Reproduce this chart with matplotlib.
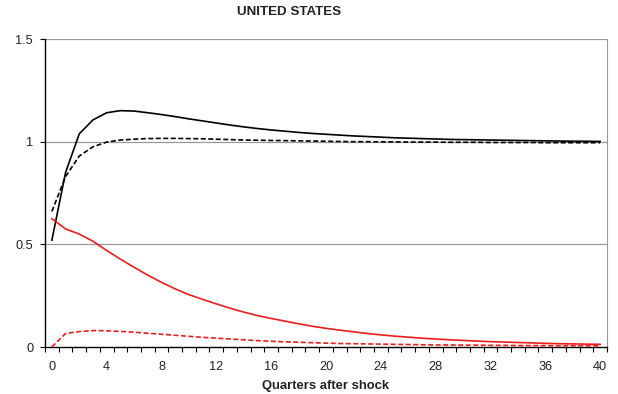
import numpy as np
import matplotlib.pyplot as plt

plt.rcParams['font.family'] = ['Liberation Sans', 'DejaVu Sans']

quarters = np.arange(41)

# black solid
us_solid = [0.52, 0.85, 1.038, 1.106, 1.141, 1.151, 1.149, 1.141, 1.132, 1.122,
            1.111, 1.101, 1.091, 1.081, 1.072, 1.064, 1.057, 1.051, 1.045, 1.040,
            1.036, 1.032, 1.028, 1.025, 1.022, 1.019, 1.017, 1.015, 1.013, 1.011,
            1.010, 1.009, 1.008, 1.007, 1.006, 1.005, 1.004, 1.003, 1.002, 1.002,
            1.001]
# black dashed
us_dashed = [0.66, 0.83, 0.93, 0.975, 0.998, 1.008, 1.012, 1.015, 1.016, 1.016,
             1.015, 1.014, 1.012, 1.010, 1.008, 1.007, 1.006, 1.005, 1.004, 1.003,
             1.002, 1.001, 1.000, 1.000, 0.999, 0.999, 0.998, 0.998, 0.998, 0.997,
             0.997, 0.997, 0.996, 0.996, 0.996, 0.996, 0.995, 0.995, 0.995, 0.995,
             0.995]
# red solid
red_solid = [0.625, 0.575, 0.550, 0.515, 0.470, 0.428, 0.388, 0.350, 0.315, 0.283,
             0.255, 0.232, 0.210, 0.189, 0.170, 0.153, 0.139, 0.126, 0.113, 0.101,
             0.091, 0.082, 0.074, 0.066, 0.059, 0.053, 0.048, 0.043, 0.039, 0.035,
             0.032, 0.029, 0.026, 0.024, 0.022, 0.020, 0.018, 0.016, 0.015, 0.014,
             0.013]
# red dashed
red_dashed = [0.0, 0.066, 0.075, 0.080, 0.079, 0.076, 0.072, 0.067, 0.062, 0.057,
              0.052, 0.047, 0.043, 0.039, 0.035, 0.031, 0.028, 0.025, 0.023, 0.021,
              0.019, 0.017, 0.016, 0.015, 0.014, 0.013, 0.012, 0.011, 0.010, 0.010,
              0.009, 0.009, 0.008, 0.008, 0.007, 0.007, 0.007, 0.006, 0.006, 0.006,
              0.006]

fig = plt.figure(figsize=(6.18, 3.94), dpi=100)
ax = fig.add_axes([45 / 618, 1 - 347 / 394, 562 / 618, 308 / 394])

for y in [0.5, 1.0, 1.5]:
    ax.axhline(y, color='#999999', lw=0.9, zorder=1)

ax.plot(quarters, us_solid, color='black', lw=1.2, zorder=3)
ax.plot(quarters, us_dashed, color='black', lw=1.2, ls=(0, (3, 1.5)), zorder=3)
ax.plot(quarters, red_solid, color='#ee1c1c', lw=1.2, zorder=3)
ax.plot(quarters, red_dashed, color='#ee1c1c', lw=1.2, ls=(0, (3, 1.5)), zorder=3)

ax.set_xlim(-0.5, 40.5)
ax.set_ylim(0, 1.5)

ax.set_xticks(np.arange(0, 41, 4))
ax.set_xticks(np.arange(-0.5, 41, 1), minor=True)
ax.tick_params(axis='x', which='major', length=0, pad=10, labelsize=9.2, colors='#222222')
ax.tick_params(axis='x', which='minor', length=3.5, width=0.8, color='black')
ax.set_yticks([0, 0.5, 1, 1.5])
ax.set_yticklabels(['0', '0.5', '1', '1.5'])
ax.tick_params(axis='y', length=3.5, width=0.8, pad=5, labelsize=9.2, colors='#222222')
ax.tick_params(axis='y', color='black')

ax.spines['top'].set_visible(False)
ax.spines['right'].set_color('#999999')
ax.spines['left'].set_linewidth(1.0)
ax.spines['bottom'].set_linewidth(1.0)

ax.set_xlabel('Quarters after shock', fontsize=9.4, fontweight='bold', labelpad=5, color='#222222')
fig.text(289 / 618, 1 - 12 / 394, 'UNITED STATES', ha='center', va='center',
         fontsize=9.6, fontweight='bold', color='#222222')

fig.savefig('out.png', dpi=100)
